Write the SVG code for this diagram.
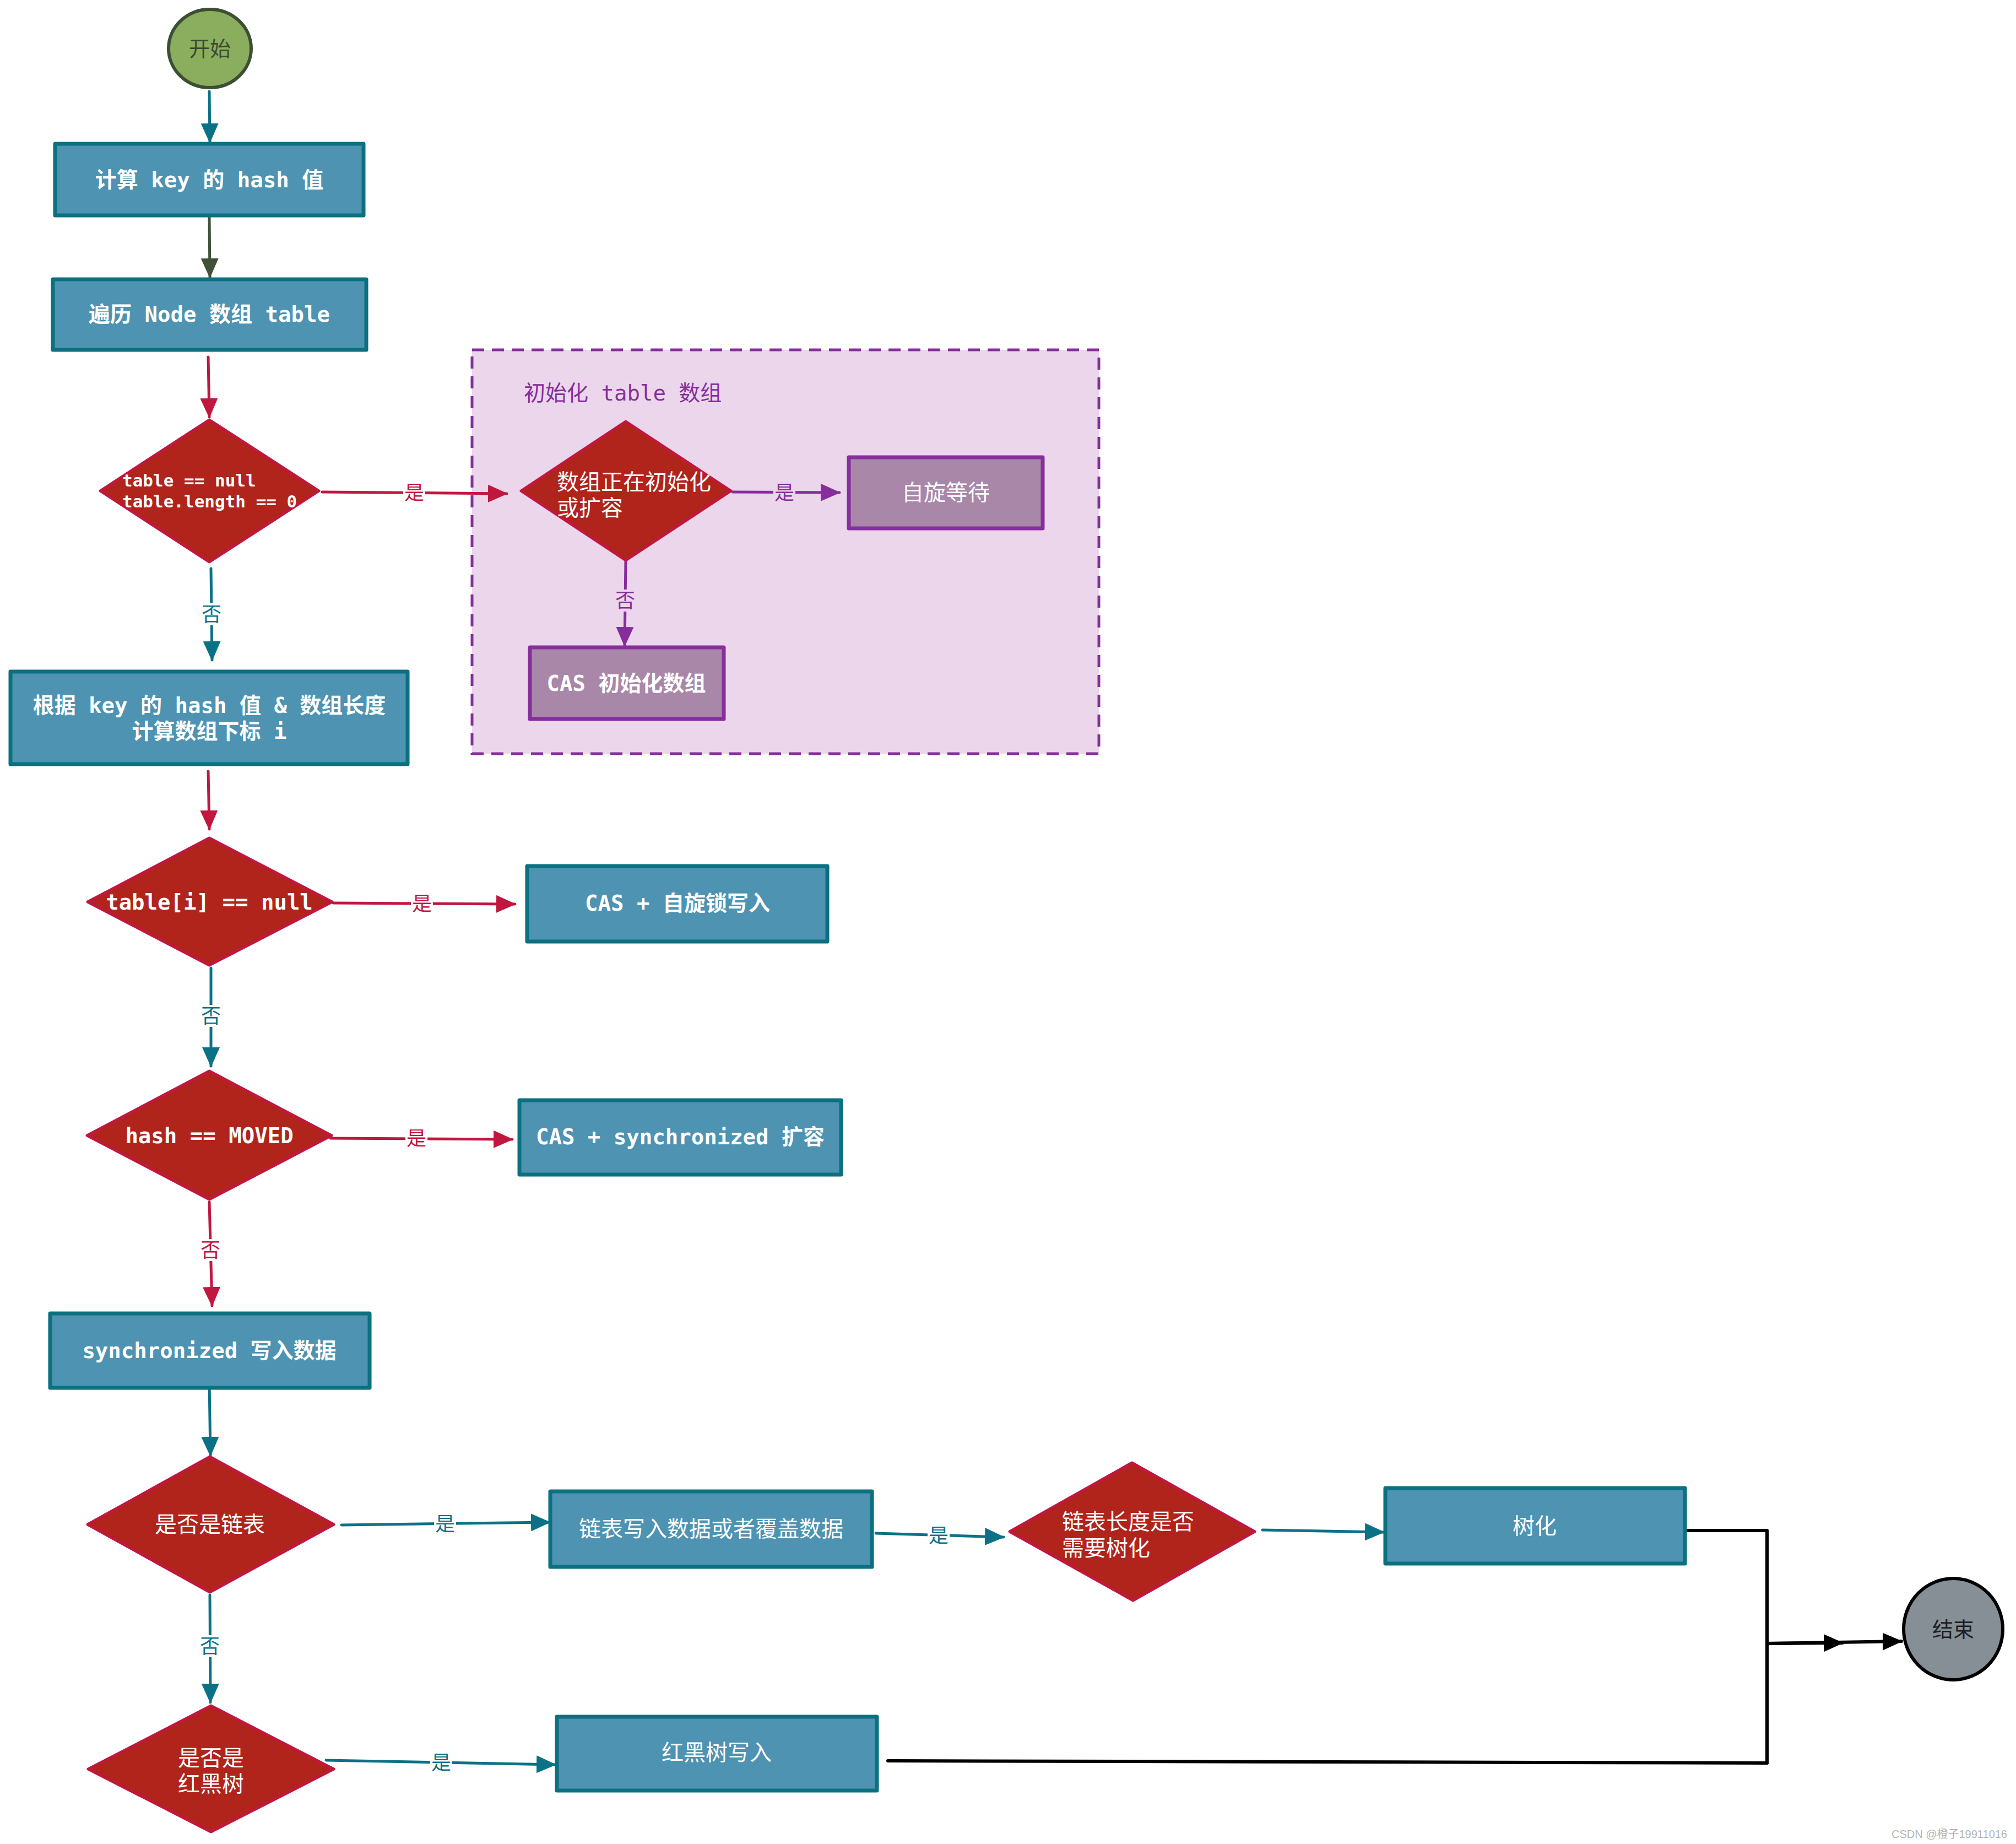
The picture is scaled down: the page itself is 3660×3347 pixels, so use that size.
<svg xmlns="http://www.w3.org/2000/svg" width="3660" height="3347" viewBox="0 0 3660 3347">
<defs>
<style>
.box{fill:#4e93b2;stroke:#0b7080;stroke-width:7;stroke-linejoin:round}
.pbox{fill:#a887a8;stroke:#862e9c;stroke-width:7;stroke-linejoin:round}
.dia{fill:#b0241c;stroke:#c1173f;stroke-width:5;stroke-linejoin:round}
.mono{font-family:"DejaVu Sans Mono","Noto Sans CJK SC",monospace;font-size:39px;font-weight:bold;fill:#fff}
.sans{font-family:"Noto Sans CJK SC","Noto Sans",sans-serif;font-size:40px;fill:#fff}
.sl{font-family:"Liberation Sans","Noto Sans CJK SC",sans-serif;font-size:40px;fill:#fff}
.c{text-anchor:middle}
.lbl{font-family:"Noto Sans CJK SC",sans-serif;font-size:36px;text-anchor:middle}
.a{fill:none;stroke-width:5;stroke-linecap:round;stroke-linejoin:round}
.teal{stroke:#0b7285}
.red{stroke:#c1173f}
.pur{stroke:#862e9c}
.dg{stroke:#3f5136}
.blk{stroke:#000;stroke-width:6}
</style>
<marker id="mt" markerUnits="userSpaceOnUse" markerWidth="36" markerHeight="32" refX="34" refY="16" orient="auto"><path d="M0,0 L36,16 L0,32 z" fill="#0b7285"/></marker>
<marker id="mr" markerUnits="userSpaceOnUse" markerWidth="36" markerHeight="32" refX="34" refY="16" orient="auto"><path d="M0,0 L36,16 L0,32 z" fill="#c1173f"/></marker>
<marker id="mp" markerUnits="userSpaceOnUse" markerWidth="36" markerHeight="32" refX="34" refY="16" orient="auto"><path d="M0,0 L36,16 L0,32 z" fill="#862e9c"/></marker>
<marker id="mg" markerUnits="userSpaceOnUse" markerWidth="36" markerHeight="32" refX="34" refY="16" orient="auto"><path d="M0,0 L36,16 L0,32 z" fill="#3f5136"/></marker>
<marker id="mk" markerUnits="userSpaceOnUse" markerWidth="36" markerHeight="32" refX="34" refY="16" orient="auto"><path d="M0,0 L36,16 L0,32 z" fill="#000"/></marker>
</defs>
<rect width="3660" height="3347" fill="#fff"/>

<g id="group-init">
<rect x="857" y="635" width="1138" height="733" fill="#ebd6eb" stroke="#862e9c" stroke-width="5" stroke-dasharray="22,14"/>
<text class="mono" x="951" y="727" style="fill:#862e9c;font-weight:normal">初始化 table 数组</text>
</g>

<g id="connectors">
<path class="a teal" d="M380,166 L381,258" marker-end="url(#mt)"/>
<path class="a dg" d="M380,395 L381,503" marker-end="url(#mg)"/>
<path class="a red" d="M378,648 L380,757" marker-end="url(#mr)"/>
<path class="a red" d="M585,893 L920,896" marker-end="url(#mr)"/>
<path class="a pur" d="M1330,893 L1524,894" marker-end="url(#mp)"/>
<path class="a pur" d="M1136,1018 L1134,1172" marker-end="url(#mp)"/>
<path class="a teal" d="M383,1032 L385,1198" marker-end="url(#mt)"/>
<path class="a red" d="M378,1400 L380,1505" marker-end="url(#mr)"/>
<path class="a red" d="M605,1639 L935,1641" marker-end="url(#mr)"/>
<path class="a teal" d="M383,1757 L383,1935" marker-end="url(#mt)"/>
<path class="a red" d="M600,2066 L930,2068" marker-end="url(#mr)"/>
<path class="a red" d="M380,2182 L385,2370" marker-end="url(#mr)"/>
<path class="a teal" d="M380,2510 L382,2642" marker-end="url(#mt)"/>
<path class="a teal" d="M620,2768 L998,2763" marker-end="url(#mt)"/>
<path class="a teal" d="M1590,2783 L1822,2790" marker-end="url(#mt)"/>
<path class="a teal" d="M2292,2777 L2512,2781" marker-end="url(#mt)"/>
<path class="a teal" d="M381,2895 L382,3090" marker-end="url(#mt)"/>
<path class="a teal" d="M592,3195 L1008,3203" marker-end="url(#mt)"/>
<path class="a blk" d="M3062,2778 L3208,2778 L3208,3200"/>
<path class="a blk" d="M1612,3196 L3208,3200"/>
<path class="a blk" d="M3208,2983 L3345,2982" marker-end="url(#mk)"/>
<path class="a blk" d="M3208,2983 L3452,2979" marker-end="url(#mk)"/>
<g id="labels">
<rect x="732" y="874" width="40" height="40" fill="#fff"/><text class="lbl" x="752" y="907" fill="#c1173f">是</text>
<rect x="1404" y="874" width="40" height="40" fill="#ebd6eb"/><text class="lbl" x="1424" y="907" fill="#862e9c">是</text>
<rect x="1115" y="1070" width="40" height="40" fill="#ebd6eb"/><text class="lbl" x="1135" y="1103" fill="#862e9c">否</text>
<rect x="364" y="1095" width="40" height="40" fill="#fff"/><text class="lbl" x="384" y="1128" fill="#0b7285">否</text>
<rect x="746" y="1620" width="40" height="40" fill="#fff"/><text class="lbl" x="766" y="1653" fill="#c1173f">是</text>
<rect x="363" y="1824" width="40" height="40" fill="#fff"/><text class="lbl" x="383" y="1857" fill="#0b7285">否</text>
<rect x="736" y="2046" width="40" height="40" fill="#fff"/><text class="lbl" x="756" y="2079" fill="#c1173f">是</text>
<rect x="362" y="2249" width="40" height="40" fill="#fff"/><text class="lbl" x="382" y="2282" fill="#c1173f">否</text>
<rect x="788" y="2746" width="40" height="40" fill="#fff"/><text class="lbl" x="808" y="2779" fill="#0b7285">是</text>
<rect x="1684" y="2767" width="40" height="40" fill="#fff"/><text class="lbl" x="1704" y="2800" fill="#0b7285">是</text>
<rect x="361" y="2968" width="40" height="40" fill="#fff"/><text class="lbl" x="381" y="3001" fill="#0b7285">否</text>
<rect x="781" y="3179" width="40" height="40" fill="#fff"/><text class="lbl" x="801" y="3212" fill="#0b7285">是</text>
</g>
</g>

<g id="start">
<ellipse cx="381" cy="88" rx="75" ry="71" fill="#8aae5d" stroke="#3c4f35" stroke-width="6"/>
<text class="sans c" x="381" y="102" style="fill:#3b4a30;font-size:38px">开始</text>
</g>
<g id="calc-hash">
<rect class="box" x="100" y="261" width="560" height="130"/>
<text class="mono c" x="380" y="340">计算 key 的 hash 值</text>
</g>
<g id="traverse">
<rect class="box" x="96" y="507" width="569" height="128"/>
<text class="mono c" x="380" y="584">遍历 Node 数组 table</text>
</g>
<g id="d-table-null">
<polygon class="dia" points="380,762 579,891 380,1020 182,891"/>
<text class="mono" x="222" y="883" style="font-size:31px">table == null</text>
<text class="mono" x="222" y="921" style="font-size:31px">table.length == 0</text>
</g>
<g id="d-initing">
<polygon class="dia" points="1136,765 1327,891 1136,1017 946,891"/>
<text class="sl" x="1011" y="889">数组正在初始化</text>
<text class="sl" x="1011" y="936">或扩容</text>
</g>
<g id="spin-wait">
<rect class="pbox" x="1541" y="830" width="352" height="129"/>
<text class="sans c" x="1717" y="908">自旋等待</text>
</g>
<g id="cas-init">
<rect class="pbox" x="962" y="1175" width="352" height="130"/>
<text class="mono c" x="1137" y="1254">CAS 初始化数组</text>
</g>
<g id="calc-index">
<rect class="box" x="19" y="1219" width="721" height="168"/>
<text class="mono c" x="380" y="1294">根据 key 的 hash 值 &amp; 数组长度</text>
<text class="mono c" x="380" y="1341">计算数组下标 i</text>
</g>
<g id="d-tablei-null">
<polygon class="dia" points="380,1521 603,1637 380,1752 159,1637"/>
<text class="mono c" x="380" y="1651">table[i] == null</text>
</g>
<g id="cas-spin-write">
<rect class="box" x="957" y="1572" width="545" height="137"/>
<text class="mono c" x="1230" y="1653">CAS + 自旋锁写入</text>
</g>
<g id="d-moved">
<polygon class="dia" points="380,1944 602,2061 380,2177 158,2061"/>
<text class="mono c" x="380" y="2075">hash == MOVED</text>
</g>
<g id="cas-sync-resize">
<rect class="box" x="943" y="1997" width="584" height="135"/>
<text class="mono c" x="1235" y="2077">CAS + synchronized 扩容</text>
</g>
<g id="sync-write">
<rect class="box" x="91" y="2384" width="580" height="135"/>
<text class="mono c" x="380" y="2465">synchronized 写入数据</text>
</g>
<g id="d-linked">
<polygon class="dia" points="381,2644 606,2767 381,2890 159,2767"/>
<text class="sans c" x="381" y="2781">是否是链表</text>
</g>
<g id="linked-write">
<rect class="box" x="999" y="2707" width="584" height="137"/>
<text class="sans c" x="1291" y="2789">链表写入数据或者覆盖数据</text>
</g>
<g id="d-treeify">
<polygon class="dia" points="2055,2655 2278,2780 2057,2905 1833,2780"/>
<text class="sl" x="1928" y="2776">链表长度是否</text>
<text class="sl" x="1928" y="2824">需要树化</text>
</g>
<g id="treeify">
<rect class="box" x="2515" y="2701" width="544" height="137"/>
<text class="sans c" x="2786" y="2784">树化</text>
</g>
<g id="d-rbtree">
<polygon class="dia" points="383,3096 606,3211 383,3325 160,3211"/>
<text class="sl c" x="383" y="3205">是否是</text>
<text class="sl c" x="383" y="3252">红黑树</text>
</g>
<g id="rbtree-write">
<rect class="box" x="1011" y="3116" width="581" height="134"/>
<text class="sans c" x="1301" y="3195">红黑树写入</text>
</g>
<g id="end">
<ellipse cx="3546" cy="2957" rx="90" ry="92" fill="#868e96" stroke="#000" stroke-width="6"/>
<text class="sans c" x="3546" y="2971" style="fill:#1e1e1e;font-size:38px">结束</text>
</g>
<text x="3644" y="3336" text-anchor="end" style="font-family:'Liberation Sans','Noto Sans CJK SC',sans-serif;font-size:20px;fill:#b4b4b4">CSDN @橙子19911016</text>
</svg>
